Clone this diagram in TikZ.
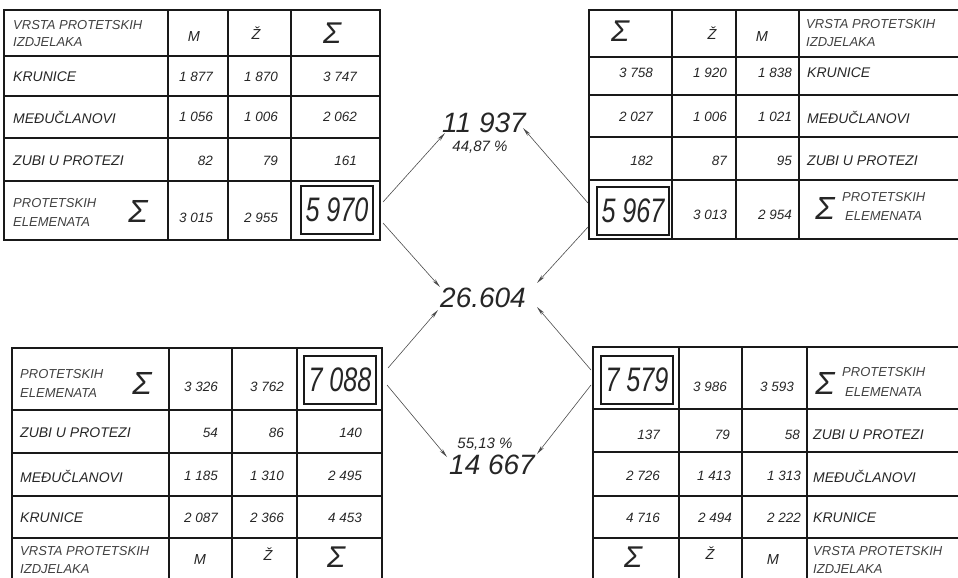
\documentclass[tikz,border=0pt]{standalone}
\usepackage{fontspec}
\usepackage{graphicx}
\setmainfont{Liberation Sans}
\usetikzlibrary{arrows.meta}
\newcommand\tLab{\fontsize{14}{16}\selectfont\itshape}
\newcommand\tHd{\fontsize{13}{15}\selectfont\itshape}
\newcommand\tNum{\fontsize{13.5}{15}\selectfont\itshape}
\newcommand\tHdr{\fontsize{14.5}{16}\selectfont\itshape}
\newcommand\tSig{\fontsize{32}{34}\selectfont\itshape}
\newcommand\tSigS{\fontsize{30}{32}\selectfont\itshape}
\newcommand\tBox{\fontsize{34}{36}\selectfont\itshape}
\newcommand\tCen{\fontsize{28}{30}\selectfont\itshape}
\newcommand\tPct{\fontsize{15}{17}\selectfont\itshape}
\newcommand\nar[1]{\scalebox{0.74}[1]{#1}}
\begin{document}
\begin{tikzpicture}[x=1pt,y=-1pt,
  tblline/.style={line width=1.1pt, black!90},
  lab/.style={anchor=west, inner sep=0pt, font=\tLab, text=black!85},
  hd/.style={anchor=west, inner sep=0pt, font=\tHd, text=black!75},
  num/.style={anchor=east, inner sep=0pt, font=\tNum, text=black!85},
  ctr/.style={inner sep=0pt, font=\tHdr, text=black!85},
  sig/.style={inner sep=0pt, font=\tSig, text=black!85},
  sigs/.style={inner sep=0pt, font=\tSigS, text=black!85},
  tot/.style={draw=black!90, line width=1.4pt, minimum width=72pt, minimum height=48pt, inner sep=0pt, font=\tBox, text=black!85},
  big/.style={inner sep=0pt, font=\tCen, text=black!85},
  pct/.style={inner sep=0pt, font=\tPct, text=black!85},
  arr/.style={line width=0.6pt, black!70, -{Stealth[length=9pt,width=3.5pt]}}]
\useasboundingbox (0,0) rectangle (958,578);

% ---------------- top-left table
\draw[tblline] (4,10) rectangle (380,240);
\foreach \x in {168,228,291} \draw[tblline] (\x,10) -- (\x,240);
\foreach \y in {56,96,138,181} \draw[tblline] (4,\y) -- (380,\y);
\node[hd] (tlh1) at (13,25) {VRSTA PROTETSKIH};
\node[hd] (tlh2) at (13,42) {IZDJELAKA};
\node[ctr] (tlm) at (194,37) {M};
\node[ctr] (tlz) at (256,33) {Ž};
\node[sigs] (tls) at (332,33) {Σ};
\node[lab] (tlr1) at (13,77) {KRUNICE};
\node[num] at (213,77) {1 877};
\node[num] at (278,77) {1 870};
\node[num] at (357,77) {3 747};
\node[lab] (tlr2) at (13,117) {MEĐUČLANOVI};
\node[num] at (213,117) {1 056};
\node[num] at (278,117) {1 006};
\node[num] at (357,117) {2 062};
\node[lab] (tlr3) at (13,161) {ZUBI U PROTEZI};
\node[num] at (213,161) {82};
\node[num] at (278,161) {79};
\node[num] at (357,161) {161};
\node[hd] (tlp1) at (13,203) {PROTETSKIH};
\node[hd] (tlp2) at (13,222) {ELEMENATA};
\node[sig] (tlps) at (138,211) {Σ};
\node[num] at (213,218) {3 015};
\node[num] at (278,218) {2 955};
\node[tot] (b5970) at (337,210) {\nar{5 970}};

% ---------------- top-right table
\draw[tblline] (970,10) -- (589,10) -- (589,239) -- (970,239);
\foreach \x in {672,736,799} \draw[tblline] (\x,10) -- (\x,239);
\foreach \y in {57,95,137,180} \draw[tblline] (589,\y) -- (970,\y);
\node[sigs] (trs) at (620,31) {Σ};
\node[ctr] (trz) at (712,33) {Ž};
\node[ctr] (trm) at (762,37) {M};
\node[hd] (trh1) at (806,24) {VRSTA PROTETSKIH};
\node[hd] (trh2) at (806,42) {IZDJELAKA};
\node[num] at (653,73) {3 758};
\node[num] at (727,73) {1 920};
\node[num] at (792,73) {1 838};
\node[lab] (trr1) at (807,73) {KRUNICE};
\node[num] at (653,117) {2 027};
\node[num] at (727,117) {1 006};
\node[num] at (792,117) {1 021};
\node[lab] (trr2) at (807,117) {MEĐUČLANOVI};
\node[num] at (653,161) {182};
\node[num] at (727,161) {87};
\node[num] at (792,161) {95};
\node[lab] (trr3) at (807,161) {ZUBI U PROTEZI};
\node[tot] (b5967) at (633,211) {\nar{5 967}};
\node[num] at (727,215) {3 013};
\node[num] at (792,215) {2 954};
\node[sig] (trps) at (825,208) {Σ};
\node[hd] (trp1) at (842,197) {PROTETSKIH};
\node[hd] (trp2) at (845,216) {ELEMENATA};

% ---------------- bottom-left table
\draw[tblline] (12,590) -- (12,348) -- (382,348) -- (382,590);
\foreach \x in {169,232,297} \draw[tblline] (\x,348) -- (\x,590);
\foreach \y in {410,453,496,538} \draw[tblline] (12,\y) -- (382,\y);
\node[hd] (blp1) at (20,374) {PROTETSKIH};
\node[hd] (blp2) at (20,393) {ELEMENATA};
\node[sig] (blps) at (142,383) {Σ};
\node[num] at (218,387) {3 326};
\node[num] at (284,387) {3 762};
\node[tot] (b7088) at (340,380) {\nar{7 088}};
\node[lab] (blr3) at (20,433) {ZUBI U PROTEZI};
\node[num] at (218,433) {54};
\node[num] at (284,433) {86};
\node[num] at (362,433) {140};
\node[lab] (blr2) at (20,476) {MEĐUČLANOVI};
\node[num] at (218,476) {1 185};
\node[num] at (284,476) {1 310};
\node[num] at (362,476) {2 495};
\node[lab] (blr1) at (20,518) {KRUNICE};
\node[num] at (218,518) {2 087};
\node[num] at (284,518) {2 366};
\node[num] at (362,518) {4 453};
\node[hd] (blh1) at (20,551) {VRSTA PROTETSKIH};
\node[hd] (blh2) at (20,569) {IZDJELAKA};
\node[ctr] (blm) at (200,560) {M};
\node[ctr] (blz) at (268,554) {Ž};
\node[sigs] (bls) at (336,557) {Σ};

% ---------------- bottom-right table
\draw[tblline] (970,347) -- (593,347) -- (593,590);
\foreach \x in {679,742,807} \draw[tblline] (\x,347) -- (\x,590);
\foreach \y in {409,452,496,538} \draw[tblline] (593,\y) -- (970,\y);
\node[tot] (b7579) at (637,380) {\nar{7 579}};
\node[num] at (727,387) {3 986};
\node[num] at (794,387) {3 593};
\node[sig] (brps) at (825,383) {Σ};
\node[hd] (brp1) at (842,372) {PROTETSKIH};
\node[hd] (brp2) at (845,392) {ELEMENATA};
\node[num] at (660,435) {137};
\node[num] at (730,435) {79};
\node[num] at (800,435) {58};
\node[lab] (brr3) at (813,435) {ZUBI U PROTEZI};
\node[num] at (660,476) {2 726};
\node[num] at (731,476) {1 413};
\node[num] at (801,476) {1 313};
\node[lab] (brr2) at (813,476) {MEĐUČLANOVI};
\node[num] at (660,518) {4 716};
\node[num] at (732,518) {2 494};
\node[num] at (801,518) {2 222};
\node[lab] (brr1) at (813,518) {KRUNICE};
\node[sigs] (brs) at (633,557) {Σ};
\node[ctr] (brz) at (710,553) {Ž};
\node[ctr] (brm) at (773,560) {M};
\node[hd] (brh1) at (813,551) {VRSTA PROTETSKIH};
\node[hd] (brh2) at (813,569) {IZDJELAKA};

% ---------------- centre
\node[big] (top) at (484,123) {11 937};
\node[pct] (toppct) at (480,147) {44,87 \%};
\node[big] (mid) at (483,298) {26.604};
\node[pct] (botpct) at (485,444) {55,13 \%};
\node[big] (bot) at (492,465) {14 667};

\coordinate (a1s) at (383,202); \coordinate (a1e) at (445,133);
\coordinate (a2s) at (588,203); \coordinate (a2e) at (523,128);
\coordinate (a3s) at (383,223); \coordinate (a3e) at (440,287);
\coordinate (a4s) at (588,227); \coordinate (a4e) at (537,283);
\coordinate (a5s) at (388,368); \coordinate (a5e) at (438,310);
\coordinate (a6s) at (591,370); \coordinate (a6e) at (537,307);
\coordinate (a7s) at (387,385); \coordinate (a7e) at (447,457);
\coordinate (a8s) at (591,385); \coordinate (a8e) at (537,454);
\foreach \i in {1,...,8} \draw[arr] (a\i s) -- (a\i e);
\end{tikzpicture}
\end{document}
